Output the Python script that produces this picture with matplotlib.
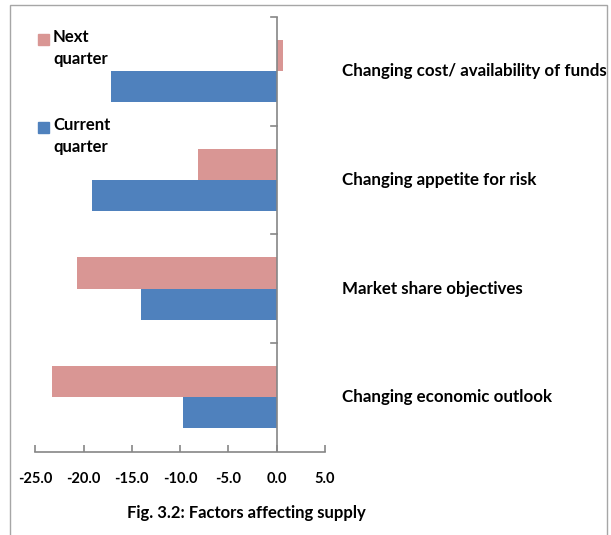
import matplotlib
matplotlib.use("Agg")
import matplotlib.pyplot as plt
from matplotlib.patches import Rectangle
import numpy as np

categories = ["Changing cost/ availability of funds",
              "Changing appetite for risk",
              "Market share objectives",
              "Changing economic outlook"]
next_quarter = [0.7, -8.1, -20.7, -23.3]
current_quarter = [-17.2, -19.1, -14.1, -9.7]
xticks = [-25.0, -20.0, -15.0, -10.0, -5.0, 0.0, 5.0]
series_labels = ["Next\nquarter", "Current\nquarter"]

PINK = "#D99694"
BLUE = "#4F81BD"
GRAY = "#868686"
FONT = ["Lato", "DejaVu Sans"]

W, H = 611, 535
fig = plt.figure(figsize=(W / 100, H / 100), dpi=100)

# outer frame
fig.patches.append(Rectangle((10 / W, -0.01), 597 / W, 1 - 5 / H + 0.01,
                             transform=fig.transFigure, fill=False,
                             edgecolor="#A6A6A6", linewidth=1.0))

left, right = 35.3 / W, 325 / W
top, bottom = 1 - 17 / H, 1 - 451.5 / H
ax = fig.add_axes([left, bottom, right - left, top - bottom])

n = len(categories)
pos = np.arange(n)  # 0 = top category
h = 0.286
ax.barh(pos - h / 2, next_quarter, height=h, color=PINK)
ax.barh(pos + h / 2, current_quarter, height=h, color=BLUE)

ax.set_xlim(-25, 5)
ax.set_ylim(n - 0.5, -0.5)

for s in ["top", "right", "left"]:
    ax.spines[s].set_visible(False)
ax.spines["bottom"].set_color(GRAY)
ax.spines["bottom"].set_linewidth(1.2)

# vertical category axis at x = 0 with boundary ticks
ax.axvline(0, color=GRAY, linewidth=1.2, zorder=3)
for yb in np.arange(-0.5, n - 0.5, 1.0):
    ax.plot([-0.55, 0], [yb, yb], color=GRAY, linewidth=1.2, clip_on=False, zorder=3)

ax.set_yticks([])
ax.set_xticks(xticks)
ax.set_xticklabels([f"{v:.1f}" for v in xticks], fontweight="bold",
                   fontsize=10.5, family=FONT)
ax.tick_params(axis="x", direction="in", length=5, width=1.2, color=GRAY, pad=15)

# category labels to the right of the plot
inv = fig.transFigure.inverted()
for i, c in enumerate(categories):
    yf = inv.transform(ax.transData.transform((0, i)))[1]
    fig.text(342 / W, yf, c, ha="left", va="center", fontsize=12.2,
             fontweight="bold", family=FONT)

# legend: square marker aligned with first text line
legend_tops = [39, 127]
for lab, col, yt in zip(series_labels, [PINK, BLUE], legend_tops):
    fig.patches.append(Rectangle((38 / W, 1 - (yt + 6) / H), 11 / W, 11 / H,
                                 transform=fig.transFigure, color=col))
    fig.text(53 / W, 1 - (yt - 10) / H, lab, ha="left", va="top", fontsize=12,
             fontweight="bold", family=FONT, linespacing=1.45)

fig.text(246 / W, 1 - 513 / H, "Fig. 3.2: Factors affecting supply",
         ha="center", va="center", fontsize=12, fontweight="bold", family=FONT)

fig.savefig("out.png", dpi=100)
